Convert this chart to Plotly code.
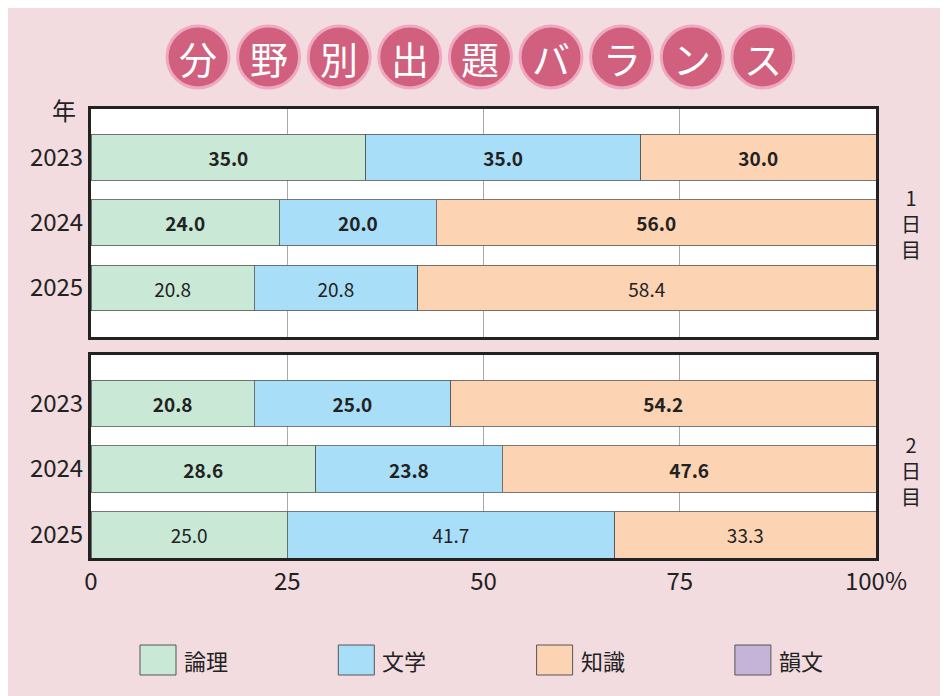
import plotly.graph_objects as go

years = ["2023", "2024", "2025"]
categories = ["論理", "文学", "知識", "韻文"]
colors = ["#c9e8d6", "#a9def8", "#fcd4b4", "#c6b3d8"]
day1 = {"論理": [35.0, 24.0, 20.8], "文学": [35.0, 20.0, 20.8], "知識": [30.0, 56.0, 58.4], "韻文": [0, 0, 0]}
day2 = {"論理": [20.8, 28.6, 25.0], "文学": [25.0, 23.8, 41.7], "知識": [54.2, 47.6, 33.3], "韻文": [0, 0, 0]}
bold_rows = [True, True, False]
title_chars = list("分野別出題バランス")
FONT = "Liberation Sans Narrow, Noto Sans CJK JP, sans-serif"

# pixel -> paper helpers (plot area spans x 83..868, y 101..550)
def px_x(p):
    return (p - 83) / 785

def px_y(p):
    return (550 - p) / 449

fig = go.Figure()
for panel, data in (("", day1), ("2", day2)):
    for cat, col in zip(categories, colors):
        vals = data[cat]
        txt = [("<b>%.1f</b>" if b else "%.1f") % v if v > 0 else "" for v, b in zip(vals, bold_rows)]
        fig.add_trace(go.Bar(
            x=vals, y=[0, 1, 2], orientation="h", name=cat,
            marker=dict(color=col, line=dict(color="#555", width=0.8)),
            width=0.7, text=txt, textposition="inside", insidetextanchor="middle",
            textfont=dict(size=19, color="#222", family=FONT),
            xaxis="x" + panel, yaxis="y" + panel,
            showlegend=False, hoverinfo="skip"))

ax_common = dict(range=[0, 100], tickvals=[0, 25, 50, 75, 100], showgrid=True,
                 gridcolor="#aaa", gridwidth=1, zeroline=False,
                 showline=True, linecolor="#222", linewidth=3, mirror=True)
y_common = dict(tickvals=[0, 1, 2], ticktext=years, tickfont=dict(size=24),
                showline=True, linecolor="#222", linewidth=3, mirror=True,
                showgrid=False, zeroline=False)
fig.update_layout(
    barmode="stack", width=948, height=696,
    paper_bgcolor="#f2dce0", plot_bgcolor="white",
    margin=dict(l=83, r=80, t=101, b=146, autoexpand=False),
    font=dict(family=FONT, color="#222"),
    showlegend=False,
    xaxis=dict(**ax_common, anchor="y", showticklabels=False),
    xaxis2=dict(**ax_common, anchor="y2", ticktext=["0", "25", "50", "75", "100%"],
                tickfont=dict(size=24), ticks=""),
    yaxis=dict(domain=[0.492, 1], range=[2.75, -0.74], **y_common),
    yaxis2=dict(domain=[0, 0.452], range=[2.35, -0.73], **y_common),
)

shapes = []
annotations = []
for i, ch in enumerate(title_chars):
    cx = 190 + i * 70.6
    shapes.append(dict(type="circle", xref="paper", yref="paper",
                       x0=px_x(cx - 31), x1=px_x(cx + 31), y0=px_y(80), y1=px_y(18),
                       fillcolor="#d0607e", line=dict(color="#f0a8c0", width=3)))
    annotations.append(dict(text=ch, xref="paper", yref="paper", x=px_x(cx), y=px_y(49),
                            xanchor="center", yanchor="middle", showarrow=False,
                            font=dict(size=38, color="white", family="Noto Sans CJK JP")))

for i, (cat, col) in enumerate(zip(categories, colors)):
    x0 = 132 + i * 198.3
    shapes.append(dict(type="rect", xref="paper", yref="paper",
                       x0=px_x(x0), x1=px_x(x0 + 36), y0=px_y(667), y1=px_y(637),
                       fillcolor=col, line=dict(color="#555", width=1)))
    annotations.append(dict(text=cat, xref="paper", yref="paper", x=px_x(x0 + 42), y=px_y(652),
                            xanchor="left", yanchor="middle", showarrow=False,
                            font=dict(size=22, family="Noto Sans CJK JP")))

annotations += [
    dict(text="年", xref="paper", yref="paper", x=px_x(56), y=px_y(101),
         xanchor="center", yanchor="middle", showarrow=False,
         font=dict(size=24, family="Noto Sans CJK JP")),
    dict(text="1<br>日<br>目", xref="paper", yref="paper", x=px_x(903), y=px_y(215),
         xanchor="center", yanchor="middle", showarrow=False,
         font=dict(size=20, family="Noto Sans CJK JP")),
    dict(text="2<br>日<br>目", xref="paper", yref="paper", x=px_x(903), y=px_y(462),
         xanchor="center", yanchor="middle", showarrow=False,
         font=dict(size=20, family="Noto Sans CJK JP")),
]
fig.update_layout(shapes=shapes, annotations=annotations)
fig.write_html("out.html")
